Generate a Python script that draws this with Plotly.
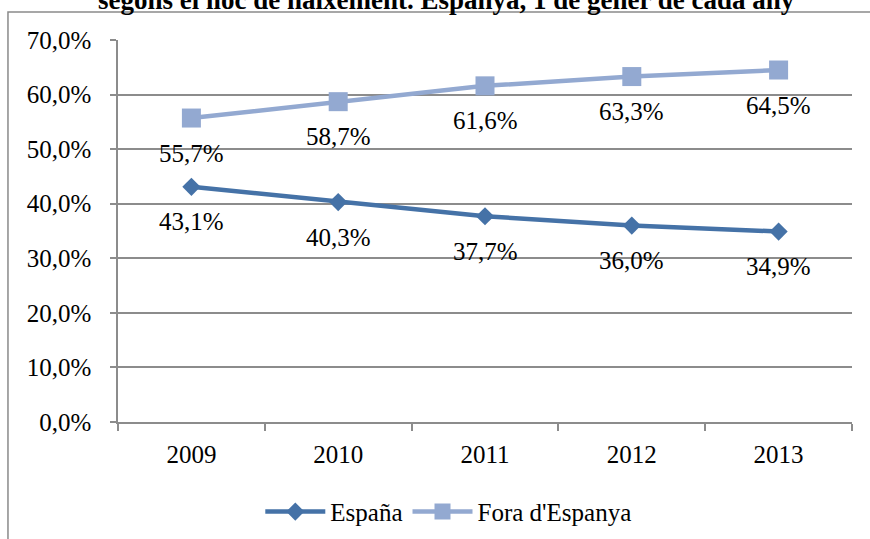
import plotly.graph_objects as go

years = [2009, 2010, 2011, 2012, 2013]
espana = [43.1, 40.3, 37.7, 36.0, 34.9]
fora = [55.7, 58.7, 61.6, 63.3, 64.5]
series_names = ["España", "Fora d'Espanya"]
y_ticks = [0, 10, 20, 30, 40, 50, 60, 70]
title_text = "segons el lloc de naixement. Espanya, 1 de gener de cada any"

def fmt(v):
    return f"{v:.1f}".replace(".", ",") + "%"

FONT = "Liberation Serif"
GRID = "#8c8c8c"
C1 = "#4572A7"
C2 = "#93A9D1"

fig = go.Figure()
fig.add_trace(go.Scatter(x=years, y=espana, name=series_names[0], mode="lines+markers",
                         line=dict(color=C1, width=4.5),
                         marker=dict(symbol="diamond", size=14, color=C1)))
fig.add_trace(go.Scatter(x=years, y=fora, name=series_names[1], mode="lines+markers",
                         line=dict(color=C2, width=4.5),
                         marker=dict(symbol="square", size=19, color=C2)))

annotations = []
for ys in (espana, fora):
    for x, v in zip(years, ys):
        annotations.append(dict(x=x, y=v, text=fmt(v), showarrow=False, xref="x", yref="y",
                                yshift=-35, font=dict(family=FONT, size=25, color="black")))
annotations.append(dict(x=0.447, y=1.106, xref="paper", yref="paper", text="<b>" + title_text + "</b>",
                        showarrow=False, yanchor="middle",
                        font=dict(family=FONT, size=27, color="black")))

fig.update_layout(
    width=870, height=539,
    margin=dict(l=118, r=18, t=40, b=117, autoexpand=False),
    paper_bgcolor="white", plot_bgcolor="white",
    font=dict(family=FONT, size=25, color="black"),
    showlegend=True,
    legend=dict(orientation="h", x=0.45, xanchor="center", y=-0.175, yanchor="top",
                font=dict(family=FONT, size=25), itemwidth=60),
    annotations=annotations,
    shapes=[dict(type="rect", xref="paper", yref="paper", x0=-0.1499, y0=-0.6, x1=1.2, y1=1.073,
                 line=dict(color="#8a8a8a", width=1.5), layer="below")],
)
fig.update_xaxes(range=[2008.5, 2013.5], tickvals=years, ticktext=[str(y) for y in years],
                 ticks="", showgrid=False, showline=True, linecolor=GRID, linewidth=1.5,
                 tickfont=dict(family=FONT, size=25), ticklabelstandoff=9, automargin=False,
                 minor=dict(tickvals=[2008.5, 2009.5, 2010.5, 2011.5, 2012.5, 2013.5],
                            ticks="outside", ticklen=7, tickcolor=GRID, tickwidth=1.5, showgrid=False),
                 zeroline=False)
fig.update_yaxes(range=[0, 70], tickvals=y_ticks, ticktext=[fmt(v) for v in y_ticks],
                 ticks="outside", ticklen=6, tickcolor=GRID, tickwidth=1.5, automargin=False,
                 showgrid=True, gridcolor=GRID, gridwidth=1.5, ticklabelstandoff=14,
                 showline=True, linecolor=GRID, linewidth=1.5, zeroline=False,
                 tickfont=dict(family=FONT, size=25))
fig.write_html("out.html", config={"displayModeBar": False},
               post_script="document.body.style.margin='0';document.body.style.padding='0';")
